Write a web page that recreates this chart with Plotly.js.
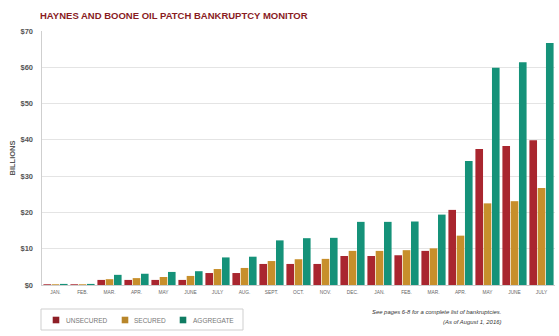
<!DOCTYPE html>
<html>
<head>
<meta charset="utf-8">
<script src="https://cdn.plot.ly/plotly-3.0.1.min.js"></script>
<style>html,body{margin:0;padding:0;background:#fff;}#chart{width:559px;height:336px;}</style>
</head>
<body>
<div id="chart"></div>
<script>
var months = ["JAN.","FEB.","MAR.","APR.","MAY","JUNE","JULY","AUG.","SEPT.","OCT.","NOV.","DEC.","JAN.","FEB.","MAR.","APR.","MAY","JUNE","JULY"];
var seriesNames = ["UNSECURED","SECURED","AGGREGATE"];
var unsecured = [0.2,0.2,1.4,1.4,1.4,1.4,3.3,3.3,5.8,5.8,5.8,8.0,8.0,8.2,9.4,20.7,37.5,38.3,39.9];
var secured   = [0.2,0.2,1.6,1.9,2.2,2.5,4.4,4.7,6.6,7.1,7.2,9.4,9.4,9.6,10.1,13.6,22.5,23.1,26.7];
var aggregate = [0.3,0.3,2.8,3.1,3.6,3.8,7.6,7.8,12.3,12.9,13.0,17.4,17.4,17.5,19.4,34.2,59.9,61.4,66.7];
var yTickVals = [0,10,20,30,40,50,60,70];
var yTickText = ["$0","$10","$20","$30","$40","$50","$60","$70"];

var idx = months.map(function(_, i){ return i; });
var FONT = "Liberation Sans, Arial, sans-serif";

var barColors = ["#a9262f", "#c78f2b", "#159279"];
var legendColors = ["#8e1e26", "#b8862a", "#0f7c62"];
var seriesData = [unsecured, secured, aggregate];

// plot area in pixels: x 42..555, y 31..285
var PL = 42, PR = 555, PT = 31, PB = 285;
function px(X){ return (X - PL) / (PR - PL); }
function py(Y){ return (PB - Y) / (PB - PT); }

var traces = seriesData.map(function(d, i){
  return {type:"bar", x: idx, y: d, name: seriesNames[i], marker:{color: barColors[i]}, showlegend:false, hoverinfo:"y"};
});

// Legend drawn as a boxed row (layout decoration, positioned in pixels)
var legendBox = {x0:41, x1:243, y0:309, y1:330};
var legendItems = [{sq:56, tx:64.5}, {sq:125, tx:133}, {sq:183, tx:191.5}];
var legendY = 320;
var shapes = [
  {type:"rect", xref:"paper", yref:"paper", x0:px(legendBox.x0), x1:px(legendBox.x1), y0:py(legendBox.y0), y1:py(legendBox.y1),
   line:{color:"#cfcfcf", width:1}, fillcolor:"#fff", layer:"above"}
];
var annotations = [];
legendItems.forEach(function(it, i){
  shapes.push({type:"rect", xref:"paper", yref:"paper", x0:px(it.sq-3.3), x1:px(it.sq+3.3), y0:py(legendY-3.3), y1:py(legendY+3.3),
               line:{width:0}, fillcolor:legendColors[i], layer:"above"});
  annotations.push({xref:"paper", yref:"paper", x:px(it.tx), y:py(legendY), xanchor:"left", yanchor:"middle", showarrow:false,
                    text:seriesNames[i], font:{size:6.5, color:"#777"}, borderpad:0});
});
annotations.push(
  {xref:"paper", yref:"paper", x:px(502), y:py(312), xanchor:"right", yanchor:"middle", showarrow:false,
   text:"<i>See pages 6-8 for a complete list of bankruptcies.</i>", font:{size:5.9, color:"#333"}, borderpad:0},
  {xref:"paper", yref:"paper", x:px(502), y:py(322), xanchor:"right", yanchor:"middle", showarrow:false,
   text:"<i>(As of August 1, 2016)</i>", font:{size:5.9, color:"#333"}, borderpad:0}
);

var layout = {
  width: 559, height: 336,
  margin: {l:PL, r:559-PR, t:PT, b:336-PB},
  paper_bgcolor:"#fff", plot_bgcolor:"#fff",
  barmode:"group", bargap:0.08, bargroupgap:0.08,
  font:{family:FONT, color:"#555"},
  showlegend:false,
  title:{text:"HAYNES AND BOONE OIL PATCH BANKRUPTCY MONITOR", x:40/559, xanchor:"left", y:1-16/336, yanchor:"middle",
         font:{family:FONT, size:9.5, weight:"bold", color:"#8a1c1f"}},
  xaxis:{range:[-0.5,18.5], tickvals: idx, ticktext: months, tickfont:{size:4.8, color:"#666"},
         showgrid:false, zeroline:false, showline:true, linecolor:"#cfcfcf", linewidth:1, ticks:"", ticklabelstandoff:2, fixedrange:true},
  yaxis:{range:[0,70], tickvals:yTickVals, ticktext:yTickText, tickfont:{size:7.5, weight:"bold", color:"#555"},
         showgrid:true, gridcolor:"#e4e4e4", gridwidth:1, zeroline:false, showline:true, linecolor:"#cfcfcf", linewidth:1.5,
         ticks:"", ticklabelstandoff:6,
         title:{text:"BILLIONS", font:{size:7.5, weight:"bold", color:"#555"}, standoff:4}},
  shapes: shapes,
  annotations: annotations
};

Plotly.newPlot("chart", traces, layout, {displayModeBar:false, staticPlot:true});
</script>
</body>
</html>
